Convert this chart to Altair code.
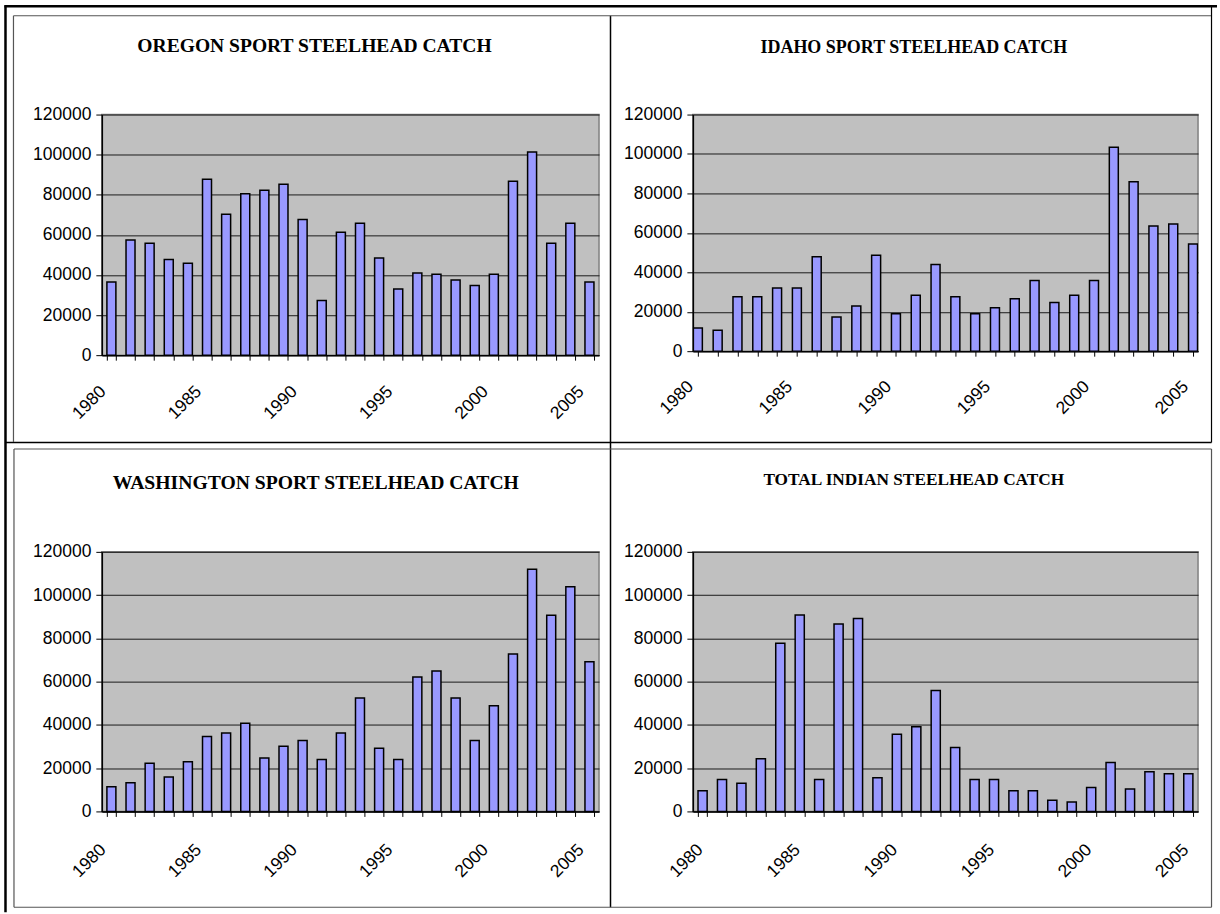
import altair as alt
import pandas as pd

years = list(range(1980, 2006))
oregon = [36500, 57500, 55800, 47700, 45800, 87700, 70300, 80500, 82300, 85200,
          67700, 27300, 61300, 65800, 48500, 33000, 41000, 40300, 37500, 34800,
          40300, 86800, 101300, 55800, 65800, 36500]
idaho = [11800, 10600, 27600, 27600, 32100, 32100, 47900, 17300, 22900, 48700,
         19000, 28400, 44000, 27600, 19000, 22000, 26600, 35800, 24700, 28400,
         35800, 103400, 85900, 63500, 64500, 54300]
washington = [11400, 13300, 22300, 15900, 23000, 34600, 36300, 40800, 24700, 30100,
              32800, 24000, 36300, 52400, 29200, 24000, 62100, 64900, 52400, 32800,
              48800, 72800, 111900, 90700, 103900, 69200]
indian = [9600, 14700, 13000, 24300, 77700, 90800, 14700, 86600, 89200, 15600,
          35700, 39100, 55900, 29600, 14700, 14700, 9600, 9600, 5200, 4300,
          11100, 22600, 10400, 18300, 17400, 17400]
titles = ["OREGON SPORT STEELHEAD CATCH", "IDAHO SPORT STEELHEAD CATCH",
          "WASHINGTON SPORT STEELHEAD CATCH", "TOTAL INDIAN STEELHEAD CATCH"]
y_ticks = [0, 20000, 40000, 60000, 80000, 100000, 120000]

NUM_FONT = "Liberation Sans, Arial"
BAR_FILL = "#9999FF"
LABEL_EXPR = "datum.value % 5 === 0 ? datum.label : ''"


def panel(title, values, width, height, on_ticks, title_size, title_offset,
          label_offset, label_padding, frame="bounds", dx=0):
    df = pd.DataFrame({"Year": years, "Catch": values})
    common = dict(title=None, labelAngle=315, labelAlign="right", labelBaseline="top",
                  labelOffset=label_offset, labelPadding=label_padding, tickSize=5,
                  tickColor="black", domainColor="black", domainWidth=1.5,
                  labelFlush=False, labelOverlap=False, grid=False,
                  labelExpr=LABEL_EXPR)
    if on_ticks:
        x = alt.X("Year:Q",
                  scale=alt.Scale(domain=[1980, 2005], nice=False, zero=False),
                  axis=alt.Axis(values=years, format="d", **common))
        mark = alt.Chart(df).mark_bar(size=9, clip=True, color=BAR_FILL,
                                      stroke="black", strokeWidth=1.5)
    else:
        x = alt.X("Year:O",
                  scale=alt.Scale(paddingInner=0.53, paddingOuter=0.265),
                  axis=alt.Axis(tickBand="extent", **common))
        mark = alt.Chart(df).mark_bar(color=BAR_FILL, stroke="black", strokeWidth=1.5)
    y = alt.Y("Catch:Q",
              scale=alt.Scale(domain=[0, 120000], nice=False),
              axis=alt.Axis(values=y_ticks, format="d", title=None, grid=True,
                            gridColor="#1a1a1a", gridWidth=1, tickSize=6,
                            labelPadding=5, tickColor="black",
                            domainColor="black", domainWidth=1.5))
    bars = mark.encode(x=x, y=y)
    return bars, dict(width=width, height=height,
                      title=alt.TitleParams(text=title, font="Liberation Serif",
                                            fontSize=title_size, fontWeight="bold",
                                            anchor="middle", frame=frame, dx=dx,
                                            offset=title_offset, color="black"))


# page origin of the top-left plot area (used for frame decorations)
OX, OY = 101, 113


def one():
    return alt.Data(values=[{"d": 0}])


def hline(y, x1, x2, color, w):
    return alt.Chart(one()).mark_rule(color=color, strokeWidth=w).encode(
        x=alt.value(x1 - OX), x2=alt.value(x2 - OX), y=alt.value(y - OY))


def vline(x, y1, y2, color, w):
    return alt.Chart(one()).mark_rule(color=color, strokeWidth=w).encode(
        x=alt.value(x - OX), y=alt.value(y1 - OY), y2=alt.value(y2 - OY))


page = alt.Chart(one()).mark_rect(fill="transparent", strokeWidth=0).encode(
    x=alt.value(0 - OX), x2=alt.value(1220 - OX),
    y=alt.value(0 - OY), y2=alt.value(914 - OY))

GRAY = "#555555"
frame = [
    hline(4.5, 3.5, 1218, "black", 2.5),
    vline(4.5, 3.5, 912, "black", 2.5),
    vline(610.5, 14, 907, "black", 1.5),
    hline(441.5, 4, 1212.5, "black", 1.5),
    vline(1212.5, 4, 441.5, "black", 1.2),
    hline(14, 12.5, 1212, GRAY, 1.2),
    vline(12.5, 14, 441, GRAY, 1.2),
    hline(448, 13, 1212.5, GRAY, 1.2),
    vline(13, 448, 907, GRAY, 1.2),
    hline(907, 13, 1212.5, GRAY, 1.2),
    vline(1212.5, 448, 907, GRAY, 1.2),
]

b1, p1 = panel(titles[0], oregon, 498, 241, False, 19.6, -55, -15, 22,
               frame="group", dx=-36)
b2, p2 = panel(titles[1], idaho, 506, 237, True, 18, 49, -14, 21, dx=3)
b3, p3 = panel(titles[2], washington, 498, 260, False, 19.7, 50, -15, 24)
b4, p4 = panel(titles[3], indian, 506, 260, False, 17.3, 55, -9, 24, dx=3)

tl = alt.layer(page, b1, *frame).properties(**p1)
tr = b2.properties(**p2)
bl = b3.properties(**p3)
br = b4.properties(**p4)

chart = alt.concat(tl, tr, bl, br, columns=2, spacing={"row": 197, "column": 94},
                   bounds="flush").properties(
    padding=0,
    autosize=alt.AutoSizeParams(type="pad"),
    background="white",
).configure_view(
    fill="#C0C0C0", stroke="#808080", strokeWidth=1.5
).configure_axis(
    labelFont=NUM_FONT, labelFontSize=17.5, labelColor="black"
)

chart.save("out.html", embed_options={"renderer": "svg", "actions": False})
